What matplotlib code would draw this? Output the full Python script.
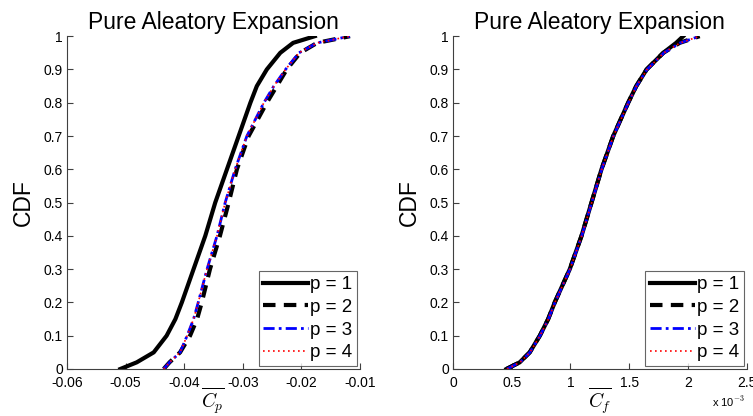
import matplotlib
matplotlib.use("Agg")
import matplotlib.pyplot as plt
from matplotlib.ticker import FuncFormatter, MultipleLocator

plt.rcParams['font.family'] = ['Liberation Sans', 'DejaVu Sans']
plt.rcParams['mathtext.fontset'] = 'cm'

cdf_levels = [0.0, 0.02, 0.05, 0.1, 0.15, 0.2, 0.3, 0.4, 0.5, 0.6, 0.7, 0.8, 0.85, 0.9, 0.95, 0.98, 1.0]

# Left panel: Cp quantiles
cp_p1 = [-0.0509, -0.0481, -0.0452, -0.0430, -0.0415, -0.0404, -0.0384, -0.0364, -0.0347,
         -0.0327, -0.0307, -0.0287, -0.0276, -0.0259, -0.0236, -0.0214, -0.0177]
cp_p2 = [-0.0435, -0.0425, -0.0407, -0.0390, -0.0378, -0.0370, -0.0356, -0.0339, -0.0324,
         -0.0310, -0.0290, -0.0259, -0.0242, -0.0225, -0.0202, -0.0173, -0.0117]
cp_p3 = [-0.0435, -0.0425, -0.0407, -0.0395, -0.0384, -0.0376, -0.0361, -0.0344, -0.0330,
         -0.0313, -0.0293, -0.0264, -0.0247, -0.0227, -0.0204, -0.0173, -0.0117]
cp_p4 = [-0.0435, -0.0425, -0.0407, -0.0395, -0.0384, -0.0376, -0.0361, -0.0344, -0.0330,
         -0.0313, -0.0293, -0.0264, -0.0247, -0.0227, -0.0204, -0.0173, -0.0117]

# Right panel: Cf quantiles
cf_p1 = [0.455e-3, 0.568e-3, 0.653e-3, 0.739e-3, 0.810e-3, 0.866e-3, 0.994e-3, 1.094e-3, 1.179e-3,
         1.264e-3, 1.364e-3, 1.491e-3, 1.560e-3, 1.648e-3, 1.790e-3, 1.900e-3, 1.960e-3]
cf_p2 = [0.455e-3, 0.568e-3, 0.653e-3, 0.739e-3, 0.810e-3, 0.866e-3, 0.994e-3, 1.094e-3, 1.179e-3,
         1.264e-3, 1.364e-3, 1.491e-3, 1.560e-3, 1.648e-3, 1.790e-3, 1.930e-3, 2.100e-3]
cf_p3 = [0.460e-3, 0.570e-3, 0.655e-3, 0.741e-3, 0.812e-3, 0.868e-3, 0.996e-3, 1.096e-3, 1.181e-3,
         1.266e-3, 1.366e-3, 1.493e-3, 1.562e-3, 1.652e-3, 1.795e-3, 1.935e-3, 2.100e-3]
cf_p4 = [0.460e-3, 0.570e-3, 0.655e-3, 0.741e-3, 0.812e-3, 0.868e-3, 0.996e-3, 1.096e-3, 1.181e-3,
         1.266e-3, 1.366e-3, 1.493e-3, 1.562e-3, 1.652e-3, 1.795e-3, 1.935e-3, 2.100e-3]

labels = ['p = 1', 'p = 2', 'p = 3', 'p = 4']
styles = [dict(color='black', ls='-', lw=3.0),
          dict(color='black', ls=(0, (3, 2)), lw=3.0),
          dict(color='blue', ls=(0, (4, 1.5, 1, 1.5)), lw=2.0),
          dict(color='red', ls=(0, (1, 2)), lw=1.2)]

fig = plt.figure(figsize=(7.53, 4.16), dpi=100)
ax1 = fig.add_axes([0.089, 0.113, 0.389, 0.800])
ax2 = fig.add_axes([0.6016, 0.113, 0.390, 0.800])

for ax, series in [(ax1, [cp_p1, cp_p2, cp_p3, cp_p4]), (ax2, [cf_p1, cf_p2, cf_p3, cf_p4])]:
    for s, lab, st in zip(series, labels, styles):
        ax.plot(s, cdf_levels, label=lab, **st)
    ax.set_ylim(0, 1)
    ax.yaxis.set_major_locator(MultipleLocator(0.1))
    ax.yaxis.set_major_formatter(FuncFormatter(lambda v, p: '%g' % round(v, 2)))
    for sp in ['top', 'right']:
        ax.spines[sp].set_visible(False)
    for sp in ['left', 'bottom']:
        ax.spines[sp].set_color('#404040')
        ax.spines[sp].set_linewidth(0.8)
    ax.tick_params(direction='in', length=4, width=0.8, labelsize=10, colors='#404040',
                   labelcolor='black', pad=3)
    ax.tick_params(axis='x', pad=5)
    ax.set_title('Pure Aleatory Expansion', fontsize=16.5, pad=5)
    ax.set_ylabel('CDF', fontsize=16.5, labelpad=6)
    leg = ax.legend(loc='lower right', fontsize=13.5, frameon=True, fancybox=False,
                    handlelength=2.4, handletextpad=0.1, borderpad=0.25, labelspacing=0.3,
                    borderaxespad=0.15)
    leg.get_frame().set_edgecolor('#404040')
    leg.get_frame().set_linewidth(0.8)

ax1.set_xlim(-0.06, -0.01)
ax1.xaxis.set_major_locator(MultipleLocator(0.01))
ax1.xaxis.set_major_formatter(FuncFormatter(lambda v, p: '%g' % round(v, 3)))
ax1.set_xlabel(r'$\overline{C_p}$', fontsize=14, labelpad=-3)

ax2.set_xlim(0, 2.5e-3)
ax2.xaxis.set_major_locator(MultipleLocator(0.5e-3))
ax2.xaxis.set_major_formatter(FuncFormatter(lambda v, p: '%g' % round(v * 1e3, 2)))
ax2.set_xlabel(r'$\overline{C_f}$', fontsize=14, labelpad=-3)
ax2.text(0.995, -0.075, r'x 10$^{-3}$', transform=ax2.transAxes, ha='right', va='top', fontsize=8)

fig.savefig('out.png', dpi=100)
